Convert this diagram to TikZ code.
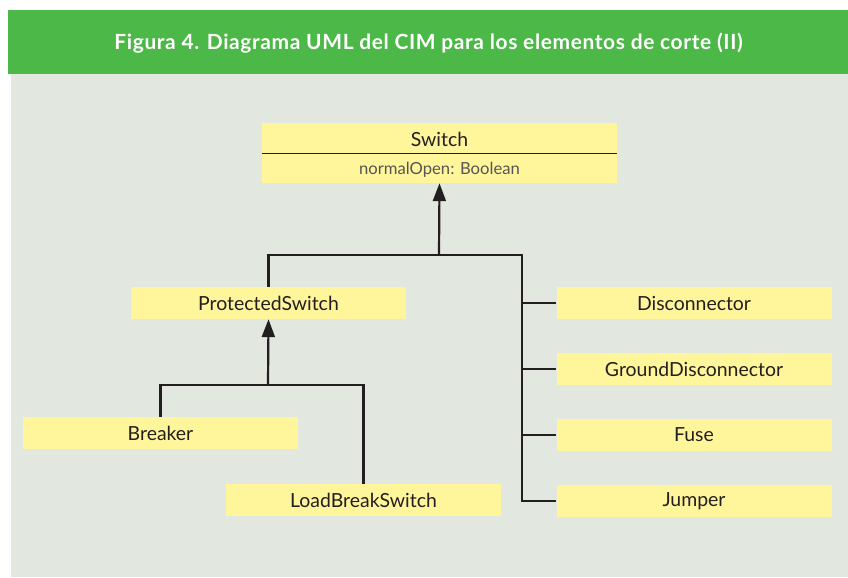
\documentclass[tikz,border=0pt]{standalone}
\usepackage{fontspec}
\setmainfont{Lato}
\newfontfamily\titlefont[LetterSpace=3]{Lato}
\usetikzlibrary{arrows.meta}
\definecolor{bandgreen}{HTML}{4CB848}
\definecolor{panelgrey}{HTML}{E2E7E0}
\definecolor{boxyellow}{HTML}{FFF59A}
\definecolor{inkdark}{HTML}{231F20}
\definecolor{attrgrey}{HTML}{555555}
\tikzset{
  cls/.style={fill=boxyellow, inner sep=0pt, minimum width=275bp, minimum height=32bp,
    font=\fontsize{19.5}{22}\selectfont, text=inkdark, anchor=center},
  link/.style={draw=inkdark, line width=2.2bp},
  inherit/.style={link, -{Triangle[length=18bp,width=13bp]}},
}
\begin{document}
\begin{tikzpicture}[x=1bp,y=-1bp]
\useasboundingbox (0,0) rectangle (848,578);
\fill[white] (0,0) rectangle (848,578);
\fill[panelgrey] (11,74) rectangle (848,577);
\fill[bandgreen] (8,10) rectangle (848,74);
\node[font=\titlefont\bfseries\fontsize{21}{25}\selectfont, text=white] (title) at (428.5,43) {Figura 4. Diagrama UML del CIM para los elementos de corte (II)};

% Switch class
\fill[boxyellow] (262,123) rectangle (617,183);
\node[inner sep=0pt, minimum width=355bp, minimum height=60bp] (switch) at (439.5,153) {};
\node[font=\fontsize{19.5}{22}\selectfont, text=inkdark] (swname) at (439.5,139) {Switch};
\draw[draw=inkdark, line width=1.4bp] (262,153.5) -- (617,153.5);
\node[font=\fontsize{16.7}{19}\selectfont, text=attrgrey] (swattr) at (439.5,169.5) {normalOpen: Boolean};

\node[cls] (prot) at (268.5,303) {ProtectedSwitch};
\node[cls] (breaker) at (160.5,433) {Breaker};
\node[cls] (lbs) at (363.5,500) {LoadBreakSwitch};
\node[cls] (disc) at (694,303) {Disconnector};
\node[cls] (gdisc) at (694,369) {GroundDisconnector};
\node[cls] (fuse) at (694,435) {Fuse};
\node[cls] (jumper) at (694,501) {Jumper};

\coordinate (j1) at (439,255);
\coordinate (j2) at (268,385);
\coordinate (bus) at (522,255);

\draw[inherit] (j1) -- (switch.south);
\draw[link] (prot.north) |- (j1) -| (bus) |- (jumper.west);
\draw[link] (bus |- disc.west) -- (disc.west);
\draw[link] (bus |- gdisc.west) -- (gdisc.west);
\draw[link] (bus |- fuse.west) -- (fuse.west);

\draw[inherit] (j2) -- (prot.south);
\draw[link] (breaker.north) |- (j2) -| (lbs.north);
\end{tikzpicture}
\end{document}
